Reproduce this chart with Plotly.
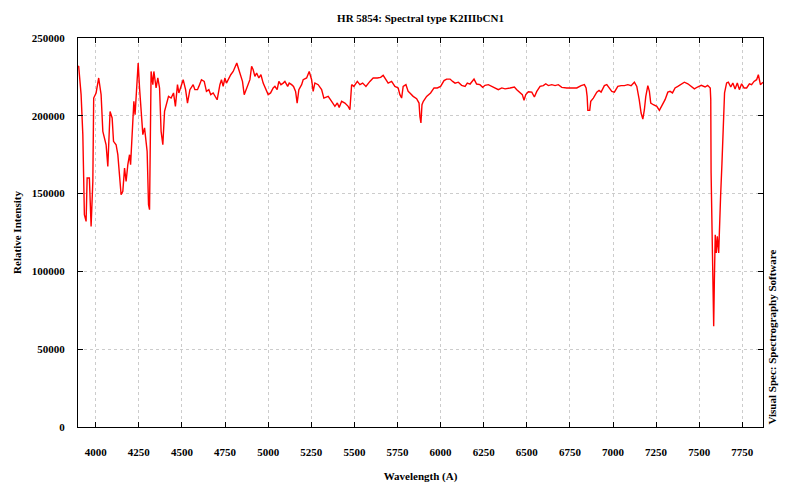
import plotly.graph_objects as go

wavelength = [
    3897, 3901, 3915, 3925, 3934, 3944, 3950, 3963, 3973, 3983, 3988, 4002, 4017, 4031, 4041,
    4060, 4070, 4083, 4095, 4103, 4118, 4128, 4147, 4157, 4167, 4176, 4186, 4196, 4202, 4211,
    4221, 4228, 4240, 4246, 4254, 4263, 4273, 4283, 4292, 4298, 4306, 4312, 4321, 4331, 4337,
    4350, 4360, 4370, 4379, 4389, 4399, 4408, 4422, 4437, 4451, 4462, 4474, 4482, 4493, 4507,
    4521, 4532, 4546, 4565, 4575, 4590, 4598, 4613, 4629, 4642, 4656, 4667, 4681, 4695, 4704,
    4720, 4729, 4739, 4749, 4758, 4772, 4783, 4797, 4811, 4818, 4830, 4840, 4851, 4861, 4875,
    4884, 4894, 4904, 4913, 4923, 4933, 4946, 4958, 4971, 4985, 5000, 5014, 5029, 5039, 5052,
    5062, 5074, 5087, 5097, 5113, 5122, 5136, 5147, 5159, 5168, 5178, 5194, 5203, 5223, 5238,
    5252, 5261, 5271, 5290, 5310, 5323, 5348, 5368, 5387, 5401, 5412, 5426, 5445, 5464, 5474,
    5484, 5497, 5517, 5532, 5548, 5567, 5590, 5609, 5633, 5652, 5667, 5683, 5696, 5716, 5735,
    5754, 5764, 5774, 5783, 5799, 5812, 5822, 5841, 5861, 5875, 5880, 5886, 5892, 5900, 5919,
    5942, 5962, 5981, 6000, 6020, 6035, 6055, 6070, 6084, 6103, 6122, 6142, 6155, 6171, 6194,
    6209, 6228, 6244, 6258, 6277, 6297, 6316, 6335, 6355, 6374, 6403, 6428, 6442, 6461, 6474,
    6484, 6494, 6509, 6529, 6544, 6558, 6577, 6596, 6610, 6625, 6645, 6664, 6683, 6703, 6732,
    6761, 6790, 6815, 6834, 6844, 6850, 6854, 6865, 6871, 6886, 6906, 6919, 6931, 6950, 6964,
    6977, 6993, 7008, 7028, 7047, 7066, 7086, 7105, 7124, 7138, 7152, 7163, 7173, 7182, 7190,
    7202, 7211, 7219, 7234, 7254, 7269, 7283, 7302, 7318, 7331, 7345, 7360, 7376, 7395, 7414,
    7434, 7453, 7472, 7490, 7512, 7534, 7549, 7564, 7567, 7569, 7573, 7579, 7580, 7584, 7588,
    7593, 7599, 7605, 7613, 7616, 7624, 7632, 7639, 7647, 7659, 7669, 7683, 7695, 7708, 7721,
    7733, 7746, 7760, 7775, 7791, 7804, 7818, 7833, 7843, 7855, 7865, 7870,
]

intensity = [
    232000, 231700, 213600, 187900, 136400, 132100, 160000, 160000, 128900, 157800, 211400, 214700, 224300, 213600, 190000,
    181400, 167500, 202800, 198600, 183600, 181400, 175000, 149300, 151400, 166400, 157800, 168600, 175000, 168600, 190000,
    209300, 200700, 220000, 233900, 217900, 205000, 187900, 192200, 183600, 177100, 142900, 139700, 228500, 220000, 228500,
    217900, 224300, 217900, 190000, 181400, 202800, 207100, 212500, 211400, 214700, 206100, 220000, 214700, 217900, 223200,
    216800, 208200, 216800, 220000, 216800, 216800, 218900, 223200, 222100, 215700, 216800, 213600, 214700, 211400, 210300,
    220000, 223200, 218900, 224300, 221000, 224300, 226400, 228500, 231800, 233900, 229600, 226400, 222100, 213600, 217900,
    220000, 223200, 231800, 229600, 225300, 227500, 224300, 226400, 221000, 217900, 213600, 214700, 217900, 218900, 216800,
    222100, 220000, 221000, 222100, 218900, 221000, 220000, 218900, 215700, 208200, 216800, 220000, 223200, 224300, 228500,
    223200, 215700, 221100, 220000, 216800, 211400, 212500, 209300, 206100, 208200, 205400, 209300, 208200, 206100, 203900,
    220000, 218900, 222100, 220000, 221000, 218900, 222100, 224300, 224300, 224700, 226000, 223200, 221000, 222100, 218900,
    217900, 213600, 211400, 218900, 220000, 215700, 214700, 212500, 211000, 208200, 199600, 195400, 207100, 209300, 212500,
    214700, 217900, 217900, 218900, 222600, 223600, 223600, 222100, 221000, 221600, 219600, 218900, 221000, 220400, 223600,
    220400, 220000, 218300, 219600, 220000, 218900, 218300, 216800, 217900, 217300, 217900, 218500, 216800, 214700, 213600,
    210000, 213600, 215400, 215200, 212100, 215700, 218900, 219400, 220600, 219400, 220000, 219400, 220000, 218300, 217900,
    217900, 217900, 219400, 220000, 217900, 212500, 203500, 203500, 209300, 211400, 215200, 216300, 215200, 219400, 220000,
    217900, 215700, 215200, 218900, 219400, 219400, 220000, 219400, 221600, 218900, 210400, 201800, 197900, 203900, 212300,
    219400, 215700, 208200, 207100, 206100, 203500, 206100, 210400, 215200, 215700, 214700, 217900, 218900, 220000, 221600,
    220600, 218900, 217300, 218500, 219600, 218500, 219600, 217900, 210400, 163200, 133200, 101100, 65700, 64700, 94700,
    123600, 111800, 122500, 111800, 126800, 148200, 169700, 195400, 214700, 221100, 221600, 218500, 221100, 217200, 221100,
    216800, 220600, 217900, 217900, 220600, 220000, 222100, 223200, 226400, 220000, 221100, 221500,
]

x_ticks = [4000, 4250, 4500, 4750, 5000, 5250, 5500, 5750, 6000, 6250, 6500, 6750, 7000, 7250, 7500, 7750]
y_ticks = [0, 50000, 100000, 150000, 200000, 250000]

title_text = "HR 5854: Spectral type K2IIIbCN1"
x_title = "Wavelength (A)"
y_title = "Relative Intensity"
credit = "Visual Spec: Spectrography Software"

FONT = "Liberation Serif"

fig = go.Figure(
    go.Scatter(
        x=wavelength,
        y=intensity,
        mode="lines",
        line=dict(color="#ff0000", width=1.4),
        showlegend=False,
        hoverinfo="x+y",
    )
)

axis_common = dict(
    showgrid=True,
    gridcolor="#cccccc",
    griddash="dot",
    gridwidth=1,
    ticks="inside",
    ticklen=5,
    tickwidth=1,
    tickcolor="black",
    showline=True,
    linecolor="black",
    linewidth=1,
    mirror="ticks",
    zeroline=False,
    automargin=False,
    tickfont=dict(family=FONT, size=11, color="black", weight=700),
)

fig.update_layout(
    width=800,
    height=483,
    margin=dict(l=78, r=37, t=38, b=56),
    paper_bgcolor="white",
    plot_bgcolor="white",
    title=dict(
        text=title_text,
        x=0.5,
        xref="paper",
        xanchor="center",
        y=1 - 18 / 483,
        yref="container",
        yanchor="middle",
        font=dict(family=FONT, size=11, color="black", weight=700),
    ),
    xaxis=dict(
        range=[3897, 7870],
        tickvals=x_ticks,
        ticktext=[str(v) for v in x_ticks],
        ticklabelstandoff=15,
        title=dict(text=x_title, standoff=18,
                   font=dict(family=FONT, size=11, color="black", weight=700)),
        **axis_common,
    ),
    yaxis=dict(
        range=[0, 250000],
        tickvals=y_ticks,
        ticktext=[str(v) for v in y_ticks],
        ticklabelstandoff=10,
        title=dict(text=y_title, standoff=7,
                   font=dict(family=FONT, size=11, color="black", weight=700)),
        **axis_common,
    ),
    annotations=[
        dict(
            text=credit,
            xref="paper",
            yref="paper",
            x=1,
            y=0,
            xshift=0,
            xanchor="left",
            yanchor="bottom",
            textangle=-90,
            showarrow=False,
            font=dict(family=FONT, size=11, color="black", weight=700),
        )
    ],
)

fig.write_html("out.html")
